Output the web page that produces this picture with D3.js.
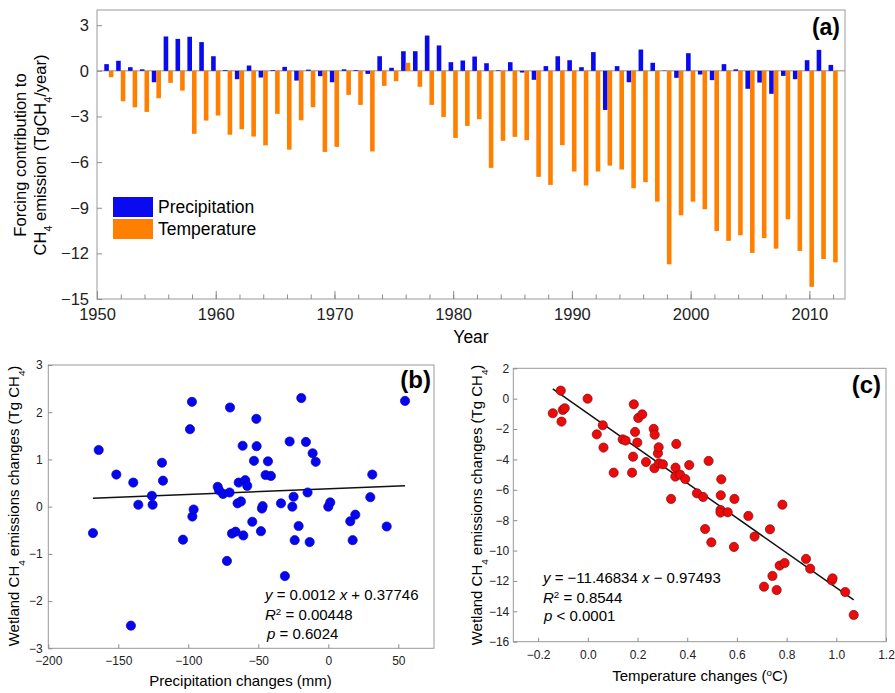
<!DOCTYPE html>
<html>
<head>
<meta charset="utf-8">
<script src="https://cdn.jsdelivr.net/npm/d3@7"></script>
<style>
  body { margin: 0; background: #fff; }
  svg { font-family: "Liberation Sans", Arial, sans-serif; }
  .axis path { display: none; }
  .axis line { stroke: #8c8c8c; }
  .axis text { fill: #222; }
</style>
</head>
<body>
<svg id="chart" width="895" height="693"></svg>
<script>
// (a) forcing contribution per year
const years = [1951, 1952, 1953, 1954, 1955, 1956, 1957, 1958, 1959, 1960,
  1961, 1962, 1963, 1964, 1965, 1966, 1967, 1968, 1969, 1970,
  1971, 1972, 1973, 1974, 1975, 1976, 1977, 1978, 1979, 1980,
  1981, 1982, 1983, 1984, 1985, 1986, 1987, 1988, 1989, 1990,
  1991, 1992, 1993, 1994, 1995, 1996, 1997, 1998, 1999, 2000,
  2001, 2002, 2003, 2004, 2005, 2006, 2007, 2008, 2009, 2010,
  2011, 2012];
const precipForcing = [0.44, 0.66, 0.24, 0.10, -0.75, 2.26, 2.10, 2.24, 1.89, 0.96,
  0.05, -0.55, 0.35, -0.44, 0.05, 0.26, -0.64, 0.08, -0.35, -0.75,
  0.10, 0.05, -0.20, 0.96, 0.20, 1.29, 1.29, 2.32, 1.67, 0.57,
  0.68, 0.94, 0.50, 0.04, 0.57, -0.11, -0.59, 0.31, 0.96, 0.70,
  0.24, 1.23, -2.57, 0.31, -0.75, 1.40, 0.53, 0.02, -0.46, 1.16,
  -0.24, -0.61, 0.44, 0.10, -1.18, -0.77, -1.51, -0.33, -0.55, 0.70,
  1.38, 0.39];
const tempForcing = [-0.42, -2.0, -2.4, -2.7, -1.8, -0.79, -1.3, -4.14, -3.27, -2.94,
  -4.2, -3.84, -4.32, -4.9, -2.83, -5.18, -3.25, -2.39, -5.33, -5.0,
  -1.58, -2.24, -5.3, -0.99, -0.68, 0.53, -1.05, -2.24, -3.03, -4.41,
  -3.62, -3.18, -6.38, -4.6, -4.34, -4.56, -6.97, -7.5, -4.89, -6.62,
  -7.54, -6.62, -6.23, -6.49, -7.72, -7.32, -8.6, -12.72, -9.5, -8.6,
  -9.1, -10.53, -11.18, -10.81, -11.97, -11.0, -11.69, -9.76, -11.84, -14.2,
  -12.37, -12.59];
const yTicksA = [3, 0, -3, -6, -9, -12, -15];
const xTicksA = [1950, 1960, 1970, 1980, 1990, 2000, 2010];

// (b) precipitation changes vs emission changes
const precipChange = [-168.1, -164.0, -151.4, -139.3, -135.7, -141.0, -126.0, -125.5, -118.8, -118.1,
  -103.8, -98.8, -97.4, -97.1, -96.2, -79.0, -78.1, -75.2, -70.5, -70.2,
  -72.4, -68.8, -66.2, -64.0, -64.8, -62.4, -61.2, -60.7, -59.3, -57.9,
  -54.3, -53.1, -51.4, -51.2, -48.1, -47.4, -46.9, -44.8, -43.1, -41.0,
  -33.8, -31.0, -27.6, -25.7, -24.8, -24.0, -21.2, -19.3, -16.0, -14.8,
  -13.3, -11.2, -9.0, 0.0, 1.4, 15.7, 17.4, 19.3, 30.0, 31.4,
  41.7, 54.8];
const emisB = [-0.56, 1.20, 0.68, 0.51, 0.04, -2.52, 0.23, 0.04, 0.93, 0.55,
  -0.70, 1.64, 2.22, -0.21, -0.06, 0.42, 0.35, 0.27, 0.30, 2.10,
  -1.15, -0.57, -0.53, 0.51, 0.07, 0.11, 1.29, -0.61, 0.56, 0.44,
  -0.32, 0.97, 1.86, 1.28, -0.52, -0.04, 0.01, 0.67, 0.96, 0.65,
  0.07, -1.47, 1.38, 0.00, 0.21, -0.71, -0.41, 2.30, 1.37, 0.30,
  -0.75, 1.13, 0.95, 0.00, 0.09, -0.31, -0.71, -0.17, 0.20, 0.68,
  -0.42, 2.24];
const fitB = { slope: 0.0012, intercept: 0.37746 };

// (c) temperature changes vs emission changes
const tempChange = [-0.141, -0.109, -0.106, -0.101, -0.093, -0.001, 0.036, 0.060, 0.063, 0.104,
  0.140, 0.152, 0.178, 0.182, 0.185, 0.190, 0.199, 0.203, 0.219, 0.234,
  0.265, 0.269, 0.268, 0.282, 0.285, 0.286, 0.302, 0.335, 0.352, 0.353,
  0.356, 0.371, 0.392, 0.408, 0.439, 0.464, 0.472, 0.486, 0.497, 0.534,
  0.534, 0.535, 0.537, 0.563, 0.590, 0.588, 0.646, 0.671, 0.709, 0.733,
  0.743, 0.760, 0.772, 0.783, 0.792, 0.878, 0.895, 0.982, 0.985, 1.036,
  1.070];
const emisC = [-0.96, 0.53, -1.51, -0.74, -0.63, 0.00, -2.35, -1.75, -3.22, -4.87,
  -2.68, -2.76, -4.87, -3.82, -0.37, -2.19, -2.89, -1.27, -1.03, -4.17,
  -1.99, -2.37, -4.58, -3.60, -3.20, -4.26, -4.32, -6.60, -5.13, -4.54,
  -2.98, -5.00, -5.29, -4.37, -6.23, -6.47, -8.58, -4.10, -9.46, -7.33,
  -7.50, -6.36, -5.31, -7.48, -6.60, -9.76, -7.72, -9.08, -12.38, -8.60,
  -11.67, -12.60, -10.99, -6.98, -10.82, -10.55, -11.19, -11.96, -11.83, -12.73,
  -14.24];
const fitC = { slope: -11.46834, intercept: -0.97493 };

const svg = d3.select('#chart');

// helper: text runs with sub/superscripts and italics
function addSub(text, parts) {
    parts.forEach(p => {
        const t = text.append('tspan').text(p.t);
        if (p.sub) t.attr('baseline-shift', 'sub').attr('font-size', '0.65em');
        if (p.sup) t.attr('baseline-shift', 'super').attr('font-size', '0.65em');
        if (p.it) t.attr('font-style', 'italic');
    });
    return text;
}

// ---------- panel (a) ----------
const xA = d3.scaleLinear().domain([1950, 2013]).range([97, 845]);
const yA = d3.scaleLinear().domain([-15, 4]).range([299, 10]);
const gA = svg.append('g');

gA.append('rect')
    .attr('x', xA(1950)).attr('y', yA(4))
    .attr('width', xA(2013) - xA(1950)).attr('height', yA(-15) - yA(4))
    .attr('fill', 'none').attr('stroke', '#999');

gA.append('line')
    .attr('x1', xA(1950)).attr('x2', xA(2013))
    .attr('y1', yA(0)).attr('y2', yA(0))
    .attr('stroke', '#8c8c8c');

const barW = 4.6;
gA.selectAll('rect.precip')
    .data(years)
    .enter().append('rect')
    .attr('class', 'precip')
    .attr('x', d => xA(d) - barW)
    .attr('width', barW)
    .attr('y', (d, i) => yA(Math.max(0, precipForcing[i])))
    .attr('height', (d, i) => Math.abs(yA(precipForcing[i]) - yA(0)))
    .attr('fill', '#0a0af0');

gA.selectAll('rect.temp')
    .data(years)
    .enter().append('rect')
    .attr('class', 'temp')
    .attr('x', d => xA(d))
    .attr('width', barW)
    .attr('y', (d, i) => yA(Math.max(0, tempForcing[i])))
    .attr('height', (d, i) => Math.abs(yA(tempForcing[i]) - yA(0)))
    .attr('fill', '#ff8000');

gA.append('g').attr('class', 'axis')
    .attr('transform', `translate(0,${yA(-15)})`)
    .call(d3.axisBottom(xA).tickValues(d3.range(1950, 2013, 2)).tickSize(-4.5).tickFormat(''));
gA.append('g').attr('class', 'axis')
    .attr('transform', `translate(0,${yA(-15)})`)
    .call(d3.axisBottom(xA).tickValues(xTicksA).tickSize(-8).tickPadding(9).tickFormat(d3.format('d')))
    .selectAll('text').attr('font-size', 16.5);
gA.append('g').attr('class', 'axis')
    .attr('transform', `translate(${xA(1950)},0)`)
    .call(d3.axisLeft(yA).tickValues(yTicksA).tickSize(-5).tickPadding(8).tickFormat(d3.format('d')))
    .selectAll('text').attr('font-size', 16.5);

gA.append('text').attr('x', (xA(1950) + xA(2013)) / 2).attr('y', 343)
    .attr('text-anchor', 'middle').attr('font-size', 17.5).text('Year');

gA.append('text').attr('transform', 'translate(26,155) rotate(-90)')
    .attr('text-anchor', 'middle').attr('font-size', 16.5)
    .text('Forcing contribution to');
addSub(gA.append('text').attr('transform', 'translate(46,155) rotate(-90)')
    .attr('text-anchor', 'middle').attr('font-size', 16.5),
    [{t: 'CH'}, {t: '4', sub: true}, {t: ' emission (TgCH'}, {t: '4', sub: true}, {t: '/year)'}]);

gA.append('text').attr('x', 840).attr('y', 35).attr('text-anchor', 'end')
    .attr('font-size', 23).attr('font-weight', 'bold').text('(a)');

const legend = [{label: 'Precipitation', color: '#0a0af0'}, {label: 'Temperature', color: '#ff8000'}];
legend.forEach((l, i) => {
    gA.append('rect').attr('x', 113).attr('y', 197 + i * 22).attr('width', 40).attr('height', 20)
        .attr('fill', l.color);
    gA.append('text').attr('x', 158).attr('y', 213 + i * 22).attr('font-size', 17.5).text(l.label);
});

// ---------- scatter panels ----------
function scatter(opts) {
    const g = svg.append('g');
    const x = d3.scaleLinear().domain(opts.xDomain).range(opts.xRange);
    const y = d3.scaleLinear().domain(opts.yDomain).range(opts.yRange);

    g.append('rect')
        .attr('x', opts.xRange[0]).attr('y', opts.yRange[1])
        .attr('width', opts.xRange[1] - opts.xRange[0]).attr('height', opts.yRange[0] - opts.yRange[1])
        .attr('fill', 'none').attr('stroke', '#999');

    g.append('g').attr('class', 'axis')
        .attr('transform', `translate(0,${opts.yRange[0]})`)
        .call(d3.axisBottom(x).tickValues(opts.xTicks).tickSize(-4).tickPadding(opts.xPad).tickFormat(opts.xFormat))
        .selectAll('text').attr('font-size', 12);
    g.append('g').attr('class', 'axis')
        .attr('transform', `translate(${opts.xRange[0]},0)`)
        .call(d3.axisLeft(y).tickValues(opts.yTicks).tickSize(-4).tickPadding(opts.yPad).tickFormat(d3.format('d')))
        .selectAll('text').attr('font-size', 12);

    const ext = d3.extent(opts.xs);
    g.append('line')
        .attr('x1', x(ext[0])).attr('y1', y(opts.fit.slope * ext[0] + opts.fit.intercept))
        .attr('x2', x(ext[1])).attr('y2', y(opts.fit.slope * ext[1] + opts.fit.intercept))
        .attr('stroke', '#111').attr('stroke-width', 1.5);

    g.selectAll('circle')
        .data(opts.xs)
        .enter().append('circle')
        .attr('cx', d => x(d))
        .attr('cy', (d, i) => y(opts.ys[i]))
        .attr('r', 4.6)
        .attr('fill', opts.color)
        .attr('stroke', opts.stroke)
        .attr('stroke-width', 0.7);

    return g;
}

const gB = scatter({
    xs: precipChange, ys: emisB, fit: fitB,
    xDomain: [-200, 75.5], xRange: [48.3, 434],
    yDomain: [-3, 3], yRange: [648.3, 365],
    xTicks: [-200, -150, -100, -50, 0, 50], yTicks: [-3, -2, -1, 0, 1, 2, 3],
    xFormat: d3.format('d'), xPad: 8.5, yPad: 5.5,
    color: '#0505ee', stroke: '#0505c0'
});
gB.append('text').attr('x', 240.5).attr('y', 686).attr('text-anchor', 'middle').attr('font-size', 15)
    .text('Precipitation changes (mm)');
addSub(gB.append('text').attr('transform', 'translate(18.5,506) rotate(-90)')
    .attr('text-anchor', 'middle').attr('font-size', 15),
    [{t: 'Wetland CH'}, {t: '4', sub: true}, {t: ' emissions changes (Tg CH'}, {t: '4', sub: true}, {t: ')'}]);
gB.append('text').attr('x', 431).attr('y', 388).attr('text-anchor', 'end')
    .attr('font-size', 24).attr('font-weight', 'bold').text('(b)');
addSub(gB.append('text').attr('x', 265).attr('y', 600).attr('font-size', 15),
    [{t: 'y', it: true}, {t: ' = 0.0012 '}, {t: 'x', it: true}, {t: ' + 0.37746'}]);
addSub(gB.append('text').attr('x', 265).attr('y', 620).attr('font-size', 15),
    [{t: 'R', it: true}, {t: '2', sup: true}, {t: ' = 0.00448'}]);
addSub(gB.append('text').attr('x', 267).attr('y', 639).attr('font-size', 15),
    [{t: 'p', it: true}, {t: ' = 0.6024'}]);

const gC = scatter({
    xs: tempChange, ys: emisC, fit: fitC,
    xDomain: [-0.3, 1.2], xRange: [513.3, 886],
    yDomain: [-16, 2], yRange: [641.7, 368.3],
    xTicks: [-0.2, 0, 0.2, 0.4, 0.6, 0.8, 1.0, 1.2], yTicks: [2, 0, -2, -4, -6, -8, -10, -12, -14, -16],
    xFormat: d3.format('.1f'), xPad: 8.5, yPad: 4,
    color: '#ee0a0a', stroke: '#7a1010'
});
addSub(gC.append('text').attr('x', 700).attr('y', 681).attr('text-anchor', 'middle').attr('font-size', 15),
    [{t: 'Temperature changes ('}, {t: 'o', sup: true}, {t: 'C)'}]);
addSub(gC.append('text').attr('transform', 'translate(482,505) rotate(-90)')
    .attr('text-anchor', 'middle').attr('font-size', 15),
    [{t: 'Wetland CH'}, {t: '4', sub: true}, {t: ' emissions changes (Tg CH'}, {t: '4', sub: true}, {t: ')'}]);
gC.append('text').attr('x', 881).attr('y', 393).attr('text-anchor', 'end')
    .attr('font-size', 24).attr('font-weight', 'bold').text('(c)');
addSub(gC.append('text').attr('x', 543).attr('y', 583).attr('font-size', 15),
    [{t: 'y', it: true}, {t: ' = \u221211.46834 '}, {t: 'x', it: true}, {t: ' \u2212 0.97493'}]);
addSub(gC.append('text').attr('x', 543).attr('y', 602.5).attr('font-size', 15),
    [{t: 'R', it: true}, {t: '2', sup: true}, {t: ' = 0.8544'}]);
addSub(gC.append('text').attr('x', 544).attr('y', 621).attr('font-size', 15),
    [{t: 'p', it: true}, {t: ' < 0.0001'}]);
</script>
</body>
</html>
